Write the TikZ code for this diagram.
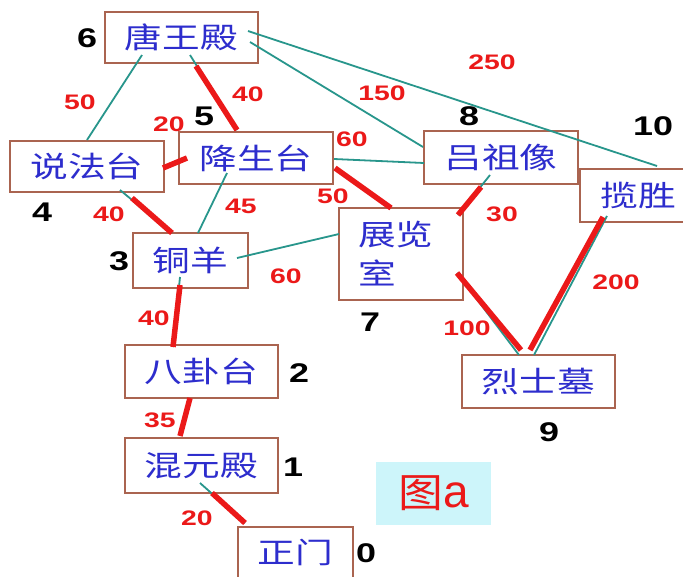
\documentclass[tikz,border=0pt]{standalone}
\usepackage{fontspec}
\setmainfont{Liberation Sans}
\newfontfamily\cjk[FakeStretch=1.3]{Noto Sans CJK SC}
\newfontfamily\cjkfig[FakeStretch=1.12]{Noto Sans CJK SC}
\newfontfamily\numfont[FakeStretch=1.33]{Liberation Sans}
\newfontfamily\wfont[FakeStretch=1.35]{Liberation Sans}
\definecolor{boxc}{RGB}{170,100,80}
\definecolor{bluec}{RGB}{45,45,205}
\definecolor{tealc}{RGB}{40,150,140}
\definecolor{redc}{RGB}{235,25,25}
\definecolor{cyanc}{RGB}{205,245,250}
\begin{document}
\begin{tikzpicture}[x=1pt,y=-1pt,
 box/.style={draw=boxc,line width=1.2pt,text=bluec,font=\cjk\fontsize{29}{39}\selectfont,inner sep=0pt},
 idx/.style={font=\numfont\bfseries\fontsize{27}{27}\selectfont,text=black,inner sep=0pt},
 wt/.style={font=\wfont\bfseries\fontsize{21}{21}\selectfont,text=redc,inner sep=0pt},
 tl/.style={draw=tealc,line width=1.8pt},
 rl/.style={draw=redc,line width=5.5pt},
]
\useasboundingbox (0,0) rectangle (683,576);
\fill[white] (0,0) rectangle (683,576);

% boxes
\node[box,minimum width=153pt,minimum height=51pt] (tw) at (181.5,37.5) {唐王殿};
\node[box,minimum width=154pt,minimum height=51pt] (sf) at (87,166.5) {说法台};
\node[box,minimum width=154pt,minimum height=52pt] (js) at (256,158) {降生台};
\node[box,minimum width=115pt,minimum height=55pt] (ty) at (190.5,260.5) {铜羊};
\node[box,minimum width=124pt,minimum height=92pt,align=left,text width=114pt] (zl) at (401,254) {\hspace*{14pt}展览\\\hspace*{14pt}室};
\node[box,minimum width=154pt,minimum height=53pt] (lz) at (501,157.5) {吕祖像};
\node[box,minimum width=116pt,minimum height=53pt] (ls) at (638,195.5) {揽胜};
\node[box,minimum width=153pt,minimum height=53pt] (bg) at (201.5,371.5) {八卦台};
\node[box,minimum width=153pt,minimum height=55pt] (hy) at (201.5,465.5) {混元殿};
\node[box,minimum width=115pt,minimum height=51pt] (zm) at (295.5,552.5) {正门};
\node[box,minimum width=153pt,minimum height=53pt] (lsm) at (538.5,381.5) {烈士墓};
\node[fill=cyanc,minimum width=115pt,minimum height=63pt,inner sep=0pt,text=redc] (fig) at (433.5,493.5)
  {{\cjkfig\fontsize{40}{40}\selectfont 图}{\fontsize{46}{46}\selectfont a}};

% connector end points
\coordinate (a1) at (142,55);  \coordinate (a2) at (87,140);
\coordinate (b1) at (248,31);  \coordinate (b2) at (657,166);
\coordinate (c1) at (250,42);  \coordinate (c2) at (423,147);
\coordinate (d1) at (227,173); \coordinate (d2) at (198,233);
\coordinate (e1) at (334,159); \coordinate (e2) at (424,163);
\coordinate (f1) at (237,258); \coordinate (f2) at (339,234);
\coordinate (g0) at (190,55);  \coordinate (g1) at (196,66);  \coordinate (g2) at (237,130);
\coordinate (h1) at (187,158); \coordinate (h2) at (163,168);
\coordinate (i0) at (120,190); \coordinate (i1) at (132,198); \coordinate (i2) at (172,233);
\coordinate (j1) at (335,168); \coordinate (j2) at (391,208);
\coordinate (k0) at (490,175); \coordinate (k1) at (481,187); \coordinate (k2) at (458,215);
\coordinate (l1) at (457,273); \coordinate (l2) at (521,350); \coordinate (l3) at (519,355);
\coordinate (m1) at (603,217); \coordinate (m2) at (530,350);
\coordinate (m3) at (607,216); \coordinate (m4) at (534,355);
\coordinate (n0) at (180,277); \coordinate (n1) at (180,285); \coordinate (n2) at (173,347);
\coordinate (o1) at (190,398); \coordinate (o2) at (180,436);
\coordinate (p0) at (200,483); \coordinate (p1) at (212,493); \coordinate (p2) at (245,523);

% teal connectors
\draw[tl] (a1) -- (a2);
\draw[tl] (b1) -- (b2);
\draw[tl] (c1) -- (c2);
\draw[tl] (d1) -- (d2);
\draw[tl] (e1) -- (e2);
\draw[tl] (f1) -- (f2);
\draw[tl] (g0) -- (g2);
\draw[tl] (i0) -- (i2);
\draw[tl] (k0) -- (k2);
\draw[tl] (l1) -- (l3);
\draw[tl] (m3) -- (m4);
\draw[tl] (n0) -- (n2);
\draw[tl] (p0) -- (p2);

% red connectors
\draw[rl] (g1) -- (g2);
\draw[rl] (h1) -- (h2);
\draw[rl] (i1) -- (i2);
\draw[rl] (j1) -- (j2);
\draw[rl] (k1) -- (k2);
\draw[rl] (l1) -- (l2);
\draw[rl] (m1) -- (m2);
\draw[rl] (n1) -- (n2);
\draw[rl] (o1) -- (o2);
\draw[rl] (p1) -- (p2);

% index labels
\node[idx] (i6) at (87,38) {6};
\node[idx] (i5) at (204,116) {5};
\node[idx] (i4) at (42,212) {4};
\node[idx] (i3) at (119,261) {3};
\node[idx] (i8) at (469,116) {8};
\node[idx] (i10) at (653,126) {10};
\node[idx] (i7) at (370,322) {7};
\node[idx] (i2) at (299,373) {2};
\node[idx] (i1) at (293,467) {1};
\node[idx] (i9) at (549,432) {9};
\node[idx] (i0) at (366,553) {0};

% weights
\node[wt] (w1) at (80,102) {50};
\node[wt] (w2) at (248,94) {40};
\node[wt] (w3) at (169,124) {20};
\node[wt] (w4) at (241,206) {45};
\node[wt] (w5) at (109,214) {40};
\node[wt] (w6) at (286,276) {60};
\node[wt] (w7) at (352,139) {60};
\node[wt] (w8) at (333,196) {50};
\node[wt] (w9) at (382,93) {150};
\node[wt] (w10) at (492,62) {250};
\node[wt] (w11) at (502,214) {30};
\node[wt] (w12) at (616,282) {200};
\node[wt] (w13) at (467,328) {100};
\node[wt] (w14) at (154,318) {40};
\node[wt] (w15) at (160,420) {35};
\node[wt] (w16) at (197,518) {20};
\end{tikzpicture}
\end{document}
